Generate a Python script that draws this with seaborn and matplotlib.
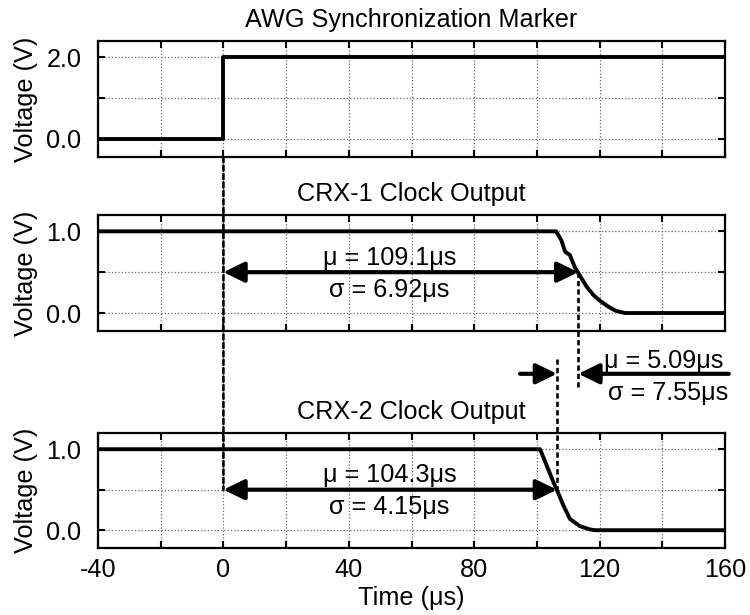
import numpy as np
import pandas as pd
import matplotlib
matplotlib.use("Agg")
import matplotlib.pyplot as plt
from matplotlib.patches import ConnectionPatch
import seaborn as sns

# --- traces (time in µs, voltage in V) ---
awg_t = [-40, 0, 0, 160]
awg_v = [0.0, 0.0, 2.0, 2.0]

crx1_t = [-40, 106.1, 107.8, 109.0, 110.5, 112.1, 113.2, 115.9, 118.0, 120.1, 122.7, 125.0, 128.0, 160]
crx1_v = [1.0, 1.0, 0.89, 0.75, 0.71, 0.56, 0.49, 0.32, 0.22, 0.15, 0.08, 0.03, 0.0, 0.0]

crx2_t = [-40, 101.0, 103.1, 105.2, 106.5, 108.4, 110.5, 113.7, 116.9, 118.5, 160]
crx2_v = [1.0, 1.0, 0.80, 0.60, 0.485, 0.31, 0.14, 0.05, 0.01, 0.0, 0.0]

# 50 % crossing times marked on the traces
cross1 = 113.2
cross2 = 106.4

# delay statistics
delay1_text = ["μ = 109.1μs", "σ = 6.92μs"]
delay2_text = ["μ = 104.3μs", "σ = 4.15μs"]
skew_text = ["μ = 5.09μs", "σ = 7.55μs"]

titles = ["AWG Synchronization Marker", "CRX-1 Clock Output", "CRX-2 Clock Output"]
x_ticks = list(range(-40, 161, 20))

FS = 18.2

sns.set_theme(style="ticks")
plt.rcParams["font.family"] = ["Liberation Sans", "DejaVu Sans"]
plt.rcParams.update({
    "font.size": FS,
    "text.color": "black",
    "axes.labelcolor": "black",
    "xtick.color": "black",
    "ytick.color": "black",
})

fig = plt.figure(figsize=(7.5, 6.15), dpi=100)
left, width = 0.1307, 0.836
ax_top = fig.add_axes([left, 0.7447, width, 0.1886])
ax_mid = fig.add_axes([left, 0.4618, width, 0.1886])
ax_bot = fig.add_axes([left, 0.1089, width, 0.187])

traces = [(ax_top, awg_t, awg_v), (ax_mid, crx1_t, crx1_v), (ax_bot, crx2_t, crx2_v)]
for ax, t, v in traces:
    df = pd.DataFrame({"t": t, "v": v})
    sns.lineplot(data=df, x="t", y="v", ax=ax, color="black", lw=2.8,
                 estimator=None, sort=False, legend=False)

for ax, title in zip([ax_top, ax_mid, ax_bot], titles):
    ax.set_xlim(-40, 160)
    ax.set_xticks(x_ticks)
    if ax is ax_bot:
        ax.set_xticklabels([str(x) if x % 40 == 0 else "" for x in x_ticks])
        ax.set_xlabel("Time (μs)", labelpad=3, fontsize=FS)
    else:
        ax.set_xticklabels([])
        ax.set_xlabel("")
    if ax is ax_top:
        ax.set_ylim(-0.44, 2.39)
        ax.set_yticks([0, 1, 2])
        ax.set_yticklabels(["0.0", "", "2.0"])
    else:
        ax.set_ylim(-0.22, 1.2)
        ax.set_yticks([0, 0.5, 1.0])
        ax.set_yticklabels(["0.0", "", "1.0"])
    ax.set_ylabel("Voltage (V)", labelpad=6, fontsize=FS)
    ax.set_title(title, pad=10, fontsize=FS, color="black")
    ax.grid(True, ls=":", color="0.4", lw=0.9)
    ax.set_axisbelow(True)
    ax.tick_params(direction="in", top=True, right=True, length=5, width=1.5,
                   colors="black", labelsize=FS)
    ax.tick_params(axis="y", pad=12)
    ax.tick_params(axis="x", pad=7)
    for s in ax.spines.values():
        s.set_visible(True)
        s.set_linewidth(1.6)
        s.set_color("black")
    ax.set_facecolor("white")

dash = (0, (2.0, 1.2))

# trigger reference line at t = 0
con = ConnectionPatch(xyA=(0, -0.44), coordsA="data", axesA=ax_top,
                      xyB=(0, 0.5), coordsB="data", axesB=ax_bot,
                      color="black", lw=1.9, ls=dash)
fig.add_artist(con)

# markers at the 50 % crossings
ax_mid.plot([cross1, cross1], [0.5, -0.90], color="black", lw=1.9, ls=dash, clip_on=False)
ax_bot.plot([cross2, cross2], [2.12, 0.5], color="black", lw=1.9, ls=dash, clip_on=False)

arrow_kw = dict(arrowstyle="<|-|>,head_length=0.45,head_width=0.22", lw=3,
                color="black", shrinkA=0, shrinkB=0, mutation_scale=28)
one_kw = dict(arrowstyle="-|>,head_length=0.45,head_width=0.22", lw=3,
              color="black", shrinkA=0, shrinkB=0, mutation_scale=28)

for ax, tc, txt in [(ax_mid, cross1, delay1_text), (ax_bot, cross2, delay2_text)]:
    ax.annotate("", xy=(0, 0.5), xytext=(tc, 0.5), arrowprops=arrow_kw)
    ax.text(53, 0.59, txt[0], ha="center", va="baseline", fontsize=FS)
    ax.text(53, 0.20, txt[1], ha="center", va="baseline", fontsize=FS)

# skew between the two receivers
y_skew = -0.744
ax_mid.annotate("", xy=(cross2, y_skew), xytext=(94.6, y_skew), arrowprops=one_kw,
                annotation_clip=False)
ax_mid.annotate("", xy=(cross1, y_skew), xytext=(161.2, y_skew), arrowprops=one_kw,
                annotation_clip=False)
ax_mid.text(159.4, -0.67, skew_text[0], ha="right", va="baseline", fontsize=FS)
ax_mid.text(161.0, -1.06, skew_text[1], ha="right", va="baseline", fontsize=FS)

fig.savefig("out.png", dpi=100, facecolor="white")
